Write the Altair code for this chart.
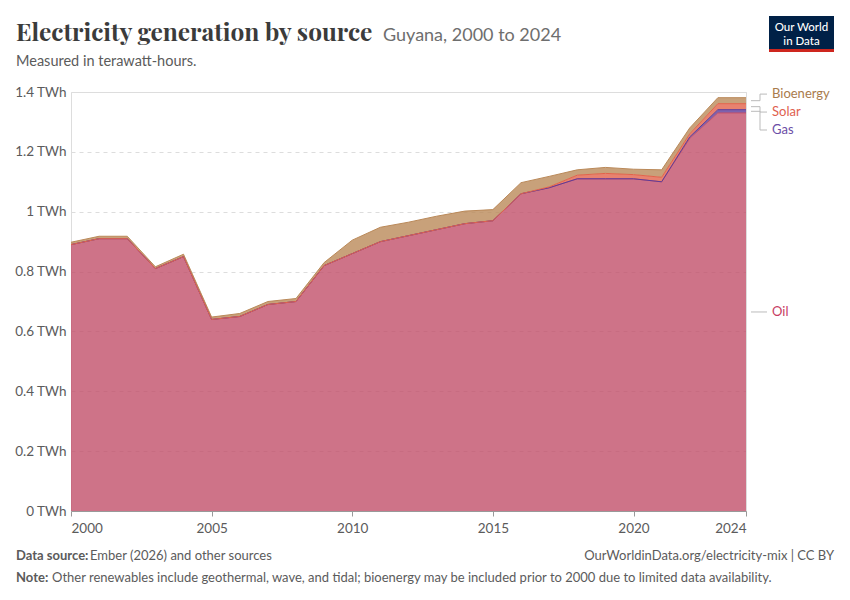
import altair as alt
import pandas as pd

# Guyana electricity generation, TWh
years = list(range(2000, 2025))
oil = [0.89, 0.91, 0.91, 0.81, 0.85, 0.64, 0.65, 0.69, 0.70, 0.82, 0.86, 0.90, 0.92,
       0.94, 0.96, 0.97, 1.06, 1.08, 1.11, 1.11, 1.11, 1.10, 1.245, 1.33, 1.33]
gas = [0, 0, 0, 0, 0, 0, 0, 0, 0, 0, 0, 0, 0,
       0, 0, 0, 0, 0, 0, 0, 0, 0, 0.005, 0.011, 0.011]
solar = [0, 0, 0, 0, 0, 0, 0, 0, 0, 0, 0, 0, 0,
         0, 0, 0, 0, 0.003, 0.012, 0.018, 0.014, 0.015, 0.01, 0.02, 0.02]
bioenergy = [0.008, 0.008, 0.008, 0.006, 0.008, 0.008, 0.01, 0.01, 0.01, 0.01, 0.045, 0.048, 0.045,
             0.045, 0.042, 0.037, 0.037, 0.035, 0.018, 0.02, 0.018, 0.025, 0.02, 0.02, 0.02]

sources = ["Oil", "Gas", "Solar", "Bioenergy"]
fill_colors = ["#c2506a", "#5e3b98", "#e2634b", "#ba8959"]
label_colors = ["#c73d63", "#6b4ea6", "#e0604e", "#a97b4c"]
# where the end labels sit (TWh), spread apart like the original
label_y = [0.665, 1.273, 1.333, 1.393]

series = {"Oil": oil, "Gas": gas, "Solar": solar, "Bioenergy": bioenergy}
rows = []
for order, name in enumerate(sources):
    for year, value in zip(years, series[name]):
        rows.append({"year": year, "source": name, "value": value, "order": order})
df = pd.DataFrame(rows)

# midpoint of each band at the last year, for the label connectors
mids = []
running = 0.0
for name in sources:
    last = series[name][-1]
    mids.append(running + last / 2)
    running += last
labels = pd.DataFrame({"source": sources, "label_y": label_y, "mid": mids, "color": label_colors})

W, H = 675, 419
FONT = "Lato"

areas = alt.Chart(df).mark_area(fillOpacity=0.8, line={"strokeWidth": 1}).encode(
    x=alt.X(
        "year:Q",
        title=None,
        scale=alt.Scale(domain=[2000, 2024], nice=False, zero=False),
        axis=alt.Axis(
            values=[2000, 2005, 2010, 2015, 2020, 2024],
            format="d",
            labelFlush=True,
            grid=False,
            domainColor="#999",
            tickColor="#999",
            tickSize=5,
            labelColor="#5b5b5b",
            labelFontSize=13.5,
            labelFont=FONT,
            labelPadding=5,
        ),
    ),
    y=alt.Y(
        "value:Q",
        title=None,
        stack="zero",
        scale=alt.Scale(domain=[0, 1.4], nice=False),
        axis=alt.Axis(
            values=[0, 0.2, 0.4, 0.6, 0.8, 1.0, 1.2, 1.4],
            labelExpr="format(datum.value, '.1~f') + ' TWh'",
            domain=False,
            ticks=False,
            gridColor="#ddd",
            gridDash=[4, 4],
            labelColor="#5b5b5b",
            labelFontSize=13.5,
            labelFont=FONT,
            labelPadding=5,
        ),
    ),
    color=alt.Color("source:N", scale=alt.Scale(domain=sources, range=fill_colors), legend=None),
    order=alt.Order("order:Q"),
)

label_base = alt.Chart(labels)
y_mid = alt.Y("mid:Q", scale=alt.Scale(domain=[0, 1.4], nice=False))
y_lab = alt.Y("label_y:Q", scale=alt.Scale(domain=[0, 1.4], nice=False))
conn1 = label_base.mark_rule(color="#bbb").encode(x=alt.value(W + 5), x2=alt.value(W + 14), y=y_mid)
conn2 = label_base.mark_rule(color="#bbb").encode(x=alt.value(W + 14), y=y_mid, y2="label_y:Q")
conn3 = label_base.mark_rule(color="#bbb").encode(x=alt.value(W + 14), x2=alt.value(W + 21), y=y_lab)
label_text = label_base.mark_text(align="left", baseline="middle", font=FONT, fontSize=13).encode(
    x=alt.value(W + 26),
    y=y_lab,
    text="source:N",
    color=alt.Color("color:N", scale=None),
)


def text(content, x, y, **kw):
    return alt.Chart(pd.DataFrame({"t": [content]})).mark_text(
        align=kw.pop("align", "left"), baseline="alphabetic", font=kw.pop("font", FONT), **kw
    ).encode(text="t:N", x=alt.value(x), y=alt.value(y))


title = text("Electricity generation by source", -55, -51, font="Playfair Display, Liberation Serif",
             fontSize=24.5, fontWeight="bold", color="#3b3b3b")
place = text("Guyana, 2000 to 2024", 312, -51, fontSize=18, color="#6e6e6e")
subtitle = text("Measured in terawatt-hours.", -55, -26, fontSize=14.5, color="#5b5b5b")

logo = alt.Chart(pd.DataFrame({"a": [0]})).mark_rect(color="#002147").encode(
    x=alt.value(698), x2=alt.value(763), y=alt.value(-76), y2=alt.value(-43)
)
logo_bar = alt.Chart(pd.DataFrame({"a": [0]})).mark_rect(color="#ce261e").encode(
    x=alt.value(698), x2=alt.value(763), y=alt.value(-43), y2=alt.value(-40)
)
logo1 = text("Our World", 730.5, -61, align="center", fontSize=11.5, fontWeight=500, color="white")
logo2 = text("in Data", 730.5, -47, align="center", fontSize=11.5, fontWeight=500, color="white")

src_b = text("Data source:", -55, 468, fontSize=13, fontWeight="bold", color="#5b5b5b")
src = text("Ember (2026) and other sources", 19, 468, fontSize=13, color="#5b5b5b")
url = text("OurWorldinData.org/electricity-mix | CC BY", 763, 468, align="right", fontSize=13, color="#5b5b5b")
note_b = text("Note:", -55, 490, fontSize=13, fontWeight="bold", color="#5b5b5b")
note = text("Other renewables include geothermal, wave, and tidal; bioenergy may be included prior to 2000 "
            "due to limited data availability.", -19, 490, fontSize=13, color="#5b5b5b")

chart = alt.layer(
    areas, conn1, conn2, conn3, label_text,
    title, place, subtitle, logo, logo_bar, logo1, logo2,
    src_b, src, url, note_b, note,
).properties(
    width=W,
    height=H,
    padding={"left": 63, "top": 84, "right": 96, "bottom": 81},
    autosize=alt.AutoSizeParams(type="none"),
).configure_view(stroke=None).configure(background="white")

chart.save("out.html", embed_options={"renderer": "svg", "actions": False})
